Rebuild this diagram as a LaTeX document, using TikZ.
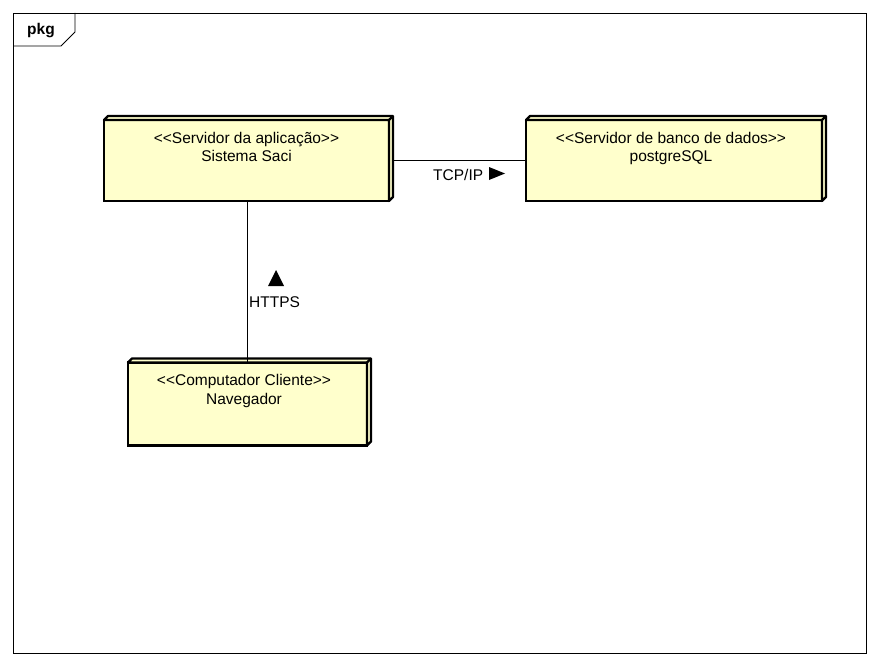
\documentclass[tikz,border=0pt]{standalone}
\usepackage{fontspec}
\setmainfont{Liberation Sans}
\definecolor{nodeyellow}{HTML}{FFFFCC}
\tikzset{
  devbox/.style={draw=black,line width=2.3pt,fill=nodeyellow,inner sep=0pt,outer sep=0pt},
  devside/.style={draw=black,line width=2.3pt,fill=nodeyellow,line join=round},
  devtext/.style={anchor=base,inner sep=0pt,font=\fontsize{15.5}{18}\selectfont},
  conn/.style={draw=black,line width=0.9pt},
  frame/.style={draw=black,line width=0.9pt},
  lbl/.style={anchor=base,inner sep=0pt,font=\fontsize{15.5}{18}\selectfont}
}
\newcommand\devdepth[1]{%
  \filldraw[devside] (#1.north west) -- ([shift={(4,-4)}]#1.north west) -- ([shift={(4,-4)}]#1.north east) -- ([shift={(4,-4)}]#1.south east) -- (#1.south east) -- (#1.north east) -- cycle;
  \draw[devside] (#1.north east) -- ([shift={(4,-4)}]#1.north east);}
\newcommand\stll{<{}<}
\newcommand\stgg{>{}>}
\begin{document}
\begin{tikzpicture}[x=1pt,y=-1pt]
\useasboundingbox (0,0) rectangle (880,666);
% package frame
\draw[frame] (13,13) rectangle (866,653);
\draw[frame] (13,46) -- (61,46) -- (75,32) -- (75,13);
\node[anchor=base west,inner sep=0pt,font=\fontsize{15.5}{18}\selectfont\bfseries] (pkg) at (27,35) {pkg};
% device nodes
\node[devbox,minimum width=285pt,minimum height=81pt] (app) at (246.5,160.5) {};
\devdepth{app}
\node[devbox,minimum width=296pt,minimum height=81pt] (db) at (674,160.5) {};
\devdepth{db}
\node[devbox,minimum width=239pt,minimum height=83pt] (cli) at (247.5,404) {};
\devdepth{cli}
% texts
\node[devtext] (appS) at (246.5,143) {\stll Servidor da aplicação\stgg};
\node[devtext] (appN) at (246.5,161) {Sistema Saci};
\node[devtext] (dbS) at (671,143) {\stll Servidor de banco de dados\stgg};
\node[devtext] (dbN) at (671,161) {postgreSQL};
\node[devtext] (cliS) at (244,385) {\stll Computador Cliente\stgg};
\node[devtext] (cliN) at (244,404) {Navegador};
% connectors
\coordinate (appR) at ([xshift=4pt]app.east |- 0,160);
\draw[conn] (appR) -- (db.west |- appR);
\draw[conn] (app.south -| 247,0) -- (cli.north -| 247,0);
% connector labels
\node[lbl,anchor=base west] (tcp) at (433,180) {TCP/IP};
\fill[black] (489,167) -- (505,173.5) -- (489,180) -- cycle;
\fill[black] (268,286) -- (276,270) -- (284,286) -- cycle;
\node[lbl,anchor=base west] (https) at (249,307) {HTTPS};
\end{tikzpicture}
\end{document}
